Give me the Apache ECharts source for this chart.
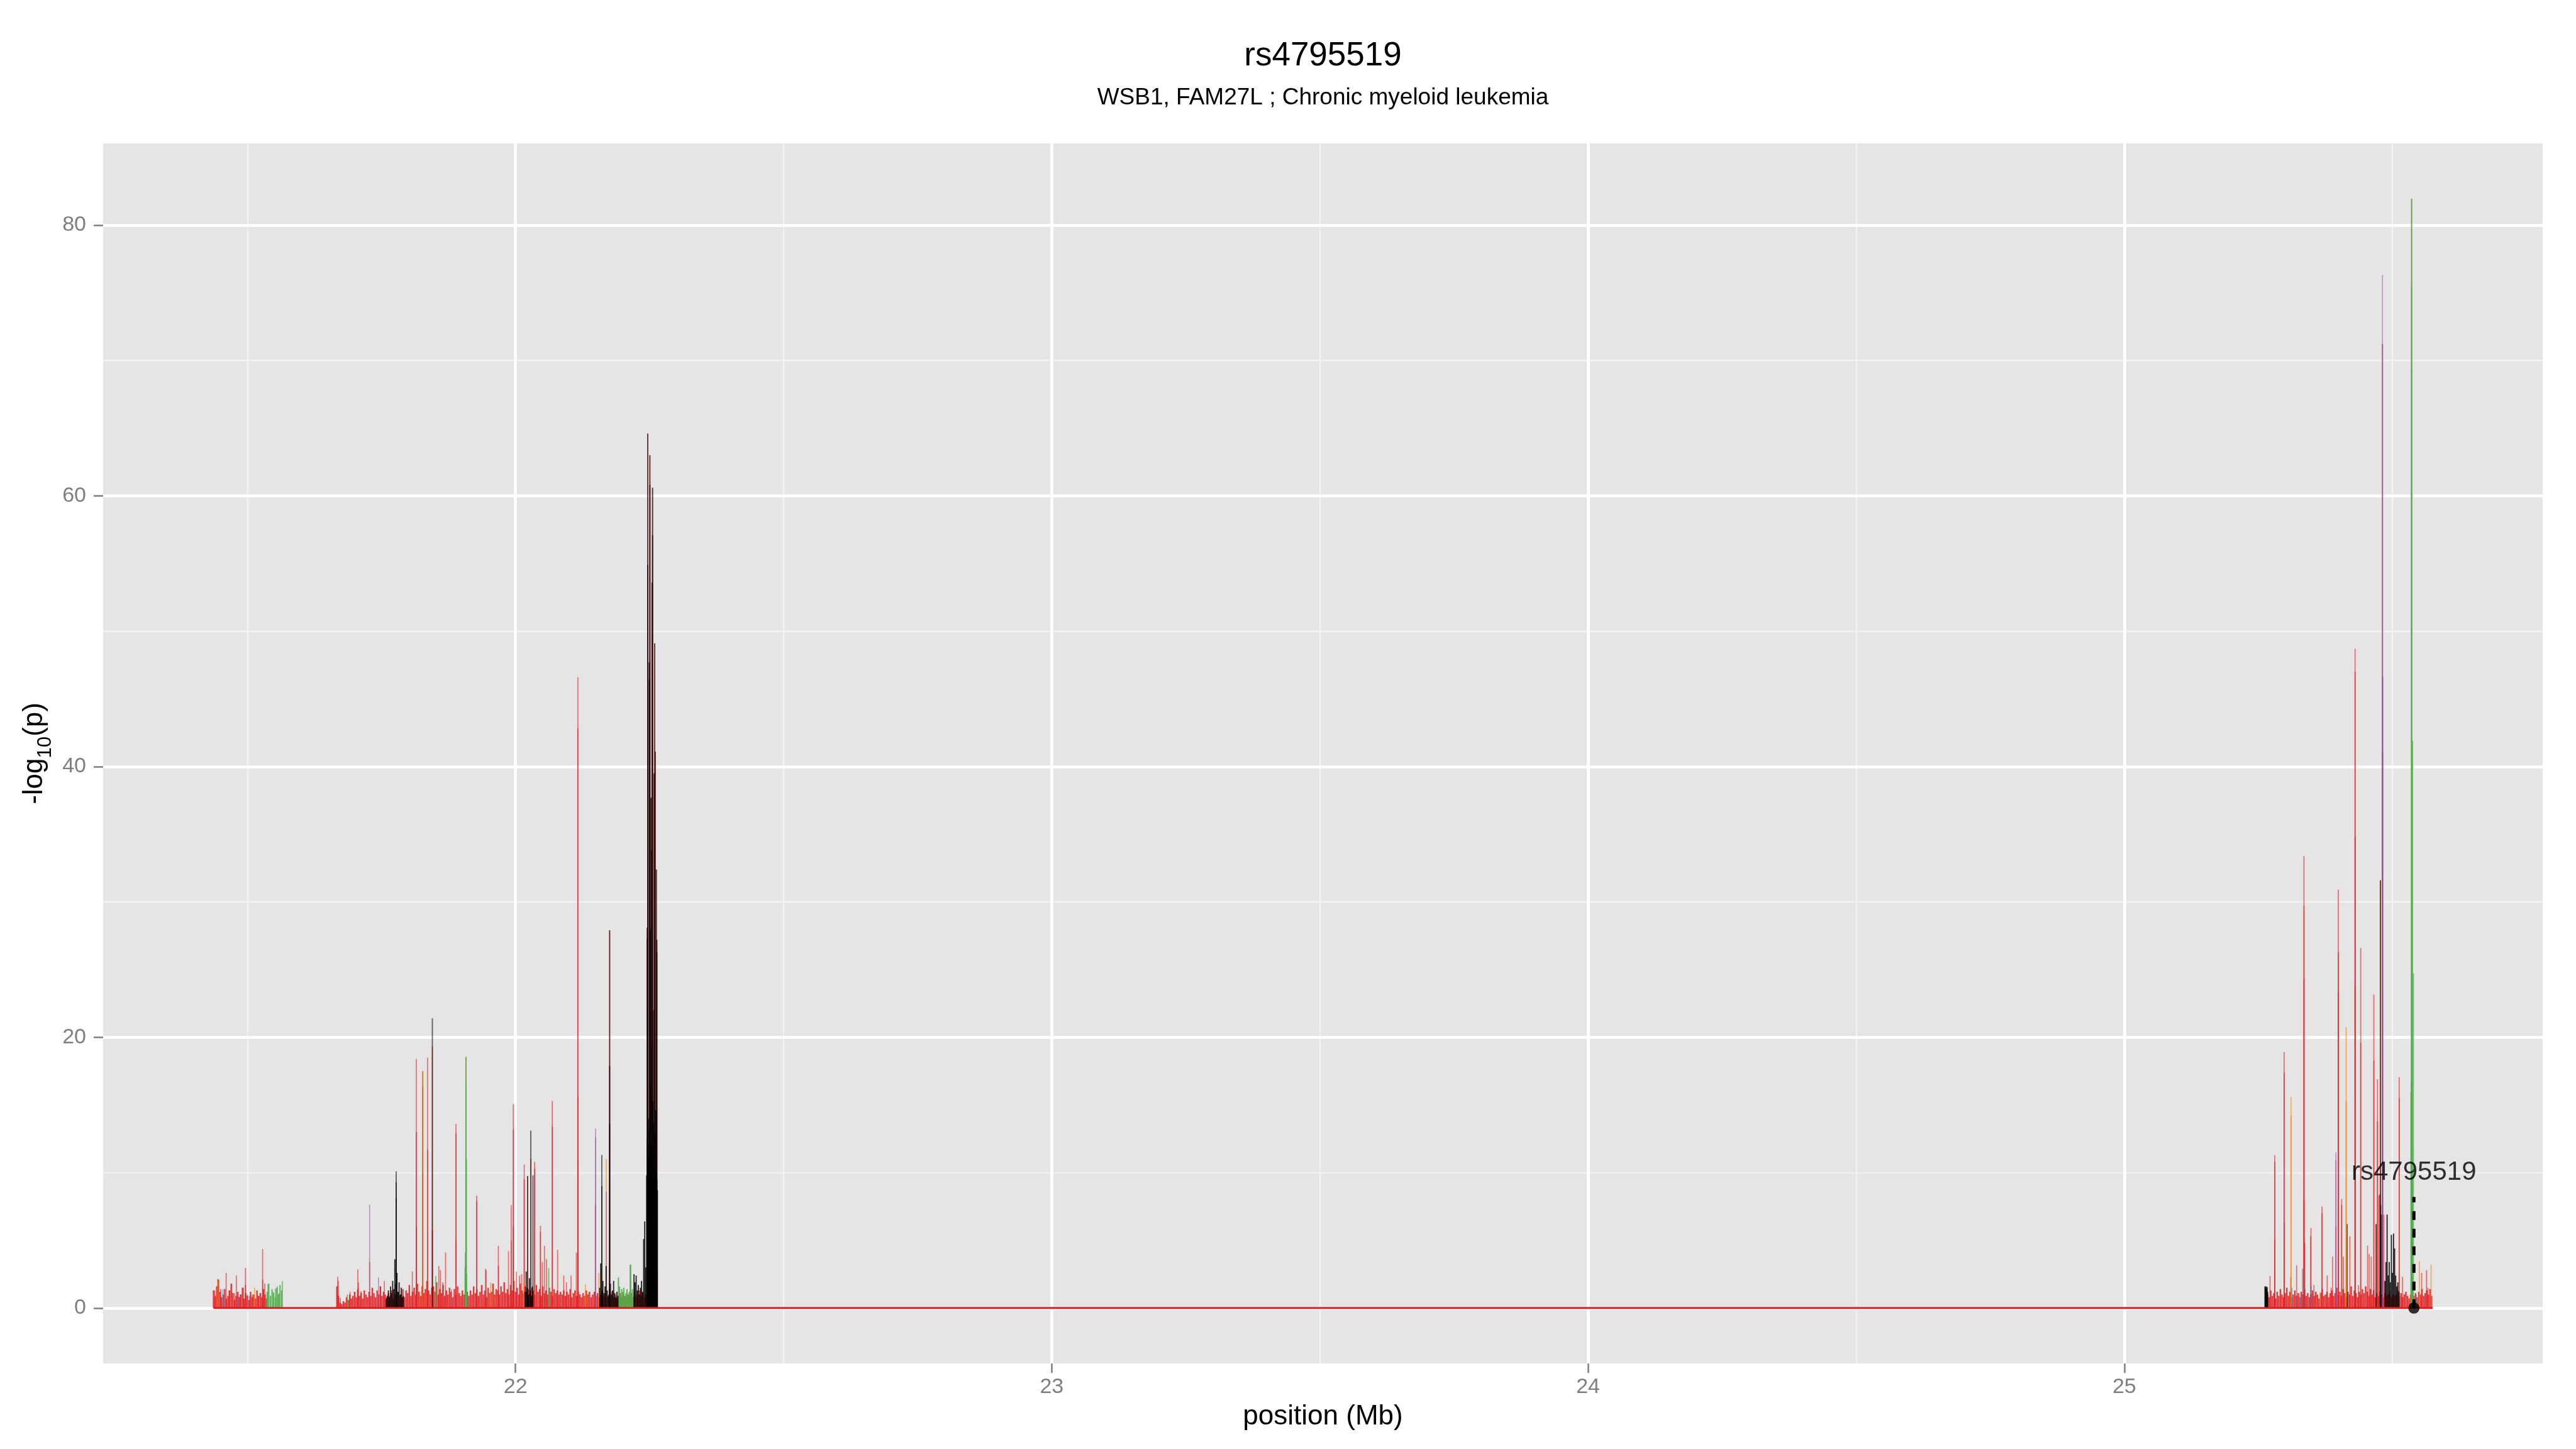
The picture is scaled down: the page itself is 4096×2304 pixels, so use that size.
<!DOCTYPE html>
<html>
<head>
<meta charset="utf-8">
<title>rs4795519</title>
<script src="https://cdn.jsdelivr.net/npm/echarts@6/dist/echarts.min.js"></script>
<style>
html, body { margin: 0; padding: 0; background: #ffffff; }
#chart { width: 4096px; height: 2304px; }
</style>
</head>
<body>
<div id="chart"></div>
<script>
// titles
var TITLE = 'rs4795519';
var SUBTITLE = 'WSB1, FAM27L ; Chronic myeloid leukemia';
var SNP_NAME = 'rs4795519';
var SNP_POS = 25.540;
var SNP_LABEL_Y = 10;
var SNP_LINE_TOP = 8.2;

// axes (Mb, -log10 p)
var X_MIN = 21.2311, X_MAX = 25.7801;
var Y_MIN = -4.097, Y_MAX = 86.037;
var xMajor = [22, 23, 24, 25];
var xMinor = [21.5, 22.5, 23.5, 24.5, 25.5];
var yMajor = [0, 20, 40, 60, 80];
var yMinor = [10, 30, 50, 70];

// extent of the tested region (zero line)
var regionStart = 21.437, regionEnd = 25.575;

// spikes: [position (Mb), -log10(p)]
var redSpikes = [
  [21.4392,1.3],[21.4449,2.15],[21.4505,1.4],[21.4605,2.6],[21.4659,1.3],[21.4759,1.1],[21.4795,2.4],
  [21.4865,1.0],[21.4925,1.5],[21.4965,2.96],[21.4965,1.7],[21.5045,0.9],[21.5095,1.0],[21.5199,0.9],
  [21.5285,4.35],[21.5285,2.1],[21.5325,1.8],
  [21.6685,2.3],[21.6695,2.0],[21.6735,0.74],[21.6915,1.2],[21.706,2.85],[21.707,1.9],[21.712,1.25],
  [21.728,3.4],[21.7485,1.6],[21.7555,2.0],[21.8076,2.7],[21.815,18.4],[21.815,13.0],[21.815,6.0],
  [21.827,17.5],[21.827,16.4],[21.827,10.0],[21.836,18.5],[21.836,11.7],[21.845,19.3],[21.845,5.7],
  [21.857,3.1],[21.860,2.8],[21.8645,1.9],[21.8696,4.1],[21.889,13.6],[21.889,12.9],[21.889,5.0],
  [21.9076,18.55],[21.9276,8.3],[21.9276,7.9],[21.944,2.9],[21.9455,2.8],[21.968,4.6],[21.9683,3.1],
  [21.987,4.2],[21.992,7.6],[21.992,5.0],[21.996,15.07],[21.996,13.2],[21.996,6.0],[22.0016,2.7],
  [22.0076,2.4],[22.0116,2.5],[22.0163,10.6],[22.0163,9.5],[22.0226,9.75],[22.0286,11.0],[22.0356,10.8],
  [22.0356,10.3],[22.0466,6.07],[22.0466,5.6],[22.050,3.4],[22.054,4.6],[22.058,3.6],[22.0686,15.3],
  [22.0686,13.4],[22.0786,4.3],[22.090,2.4],[22.095,1.9],[22.1035,2.4],[22.1135,4.1],[22.1163,46.6],
  [22.1163,42.8],[22.1163,15.6],[22.1163,11.0],[22.149,7.6],[22.1756,27.9],
  [22.2456,28.1],[22.2466,64.6],[22.2466,54.9],[22.2496,47.7],[22.2506,63.0],[22.2526,37.7],[22.2546,53.6],
  [22.2556,60.6],[22.2586,39.5],[22.2596,49.1],[22.2606,41.1],[22.2626,32.4],[22.2636,27.2],[22.2646,2.9],
  [25.2717,2.36],[25.2806,11.3],[25.2806,10.8],[25.2806,5.0],[25.298,18.9],[25.298,17.4],[25.298,6.3],
  [25.3103,2.3],[25.3213,3.16],[25.3326,2.9],[25.335,33.4],[25.335,29.7],[25.335,24.3],[25.335,8.0],
  [25.3365,4.8],[25.348,5.9],[25.3475,5.3],[25.3536,1.7],[25.3686,7.5],[25.3686,7.0],[25.3783,2.4],
  [25.3856,1.5],[25.3883,3.8],[25.3946,6.0],[25.399,30.9],[25.399,26.3],[25.399,23.3],[25.4053,8.06],
  [25.4053,7.6],[25.4083,3.8],[25.4206,5.3],[25.4303,48.7],[25.4303,47.0],[25.4303,34.8],[25.4303,23.8],
  [25.4366,1.7],[25.4408,26.6],[25.4408,19.6],[25.4536,4.6],[25.4566,4.0],[25.4603,3.8],[25.4653,23.15],
  [25.4653,18.3],[25.4696,6.2],[25.472,16.9],[25.472,13.8],[25.4743,8.3],[25.4775,31.6],[25.4814,71.2],
  [25.4816,46.6],[25.4816,41.1],[25.484,6.9],[25.5126,17.05],[25.5126,15.5],[25.5186,2.3],[25.5357,81.94],
  [25.5545,2.6],[25.5635,2.8],[25.566,1.5]
];
var blackSpikes = [
  [21.7775,10.1],[21.7775,9.3],[21.7775,8.1],[21.845,21.4],[22.0226,9.75],[22.0286,13.1],[22.0326,9.8],
  [22.161,11.3],[22.161,9.0],[22.1756,27.9],[22.1756,17.9],[22.1756,13.6],
  [22.2456,28.1],[22.2456,27.3],[22.2466,64.6],[22.2466,54.9],[22.2476,12.1],[22.2496,47.7],[22.2496,46.4],
  [22.2506,63.0],[22.2506,60.8],[22.2516,28.0],[22.2526,37.7],[22.2536,33.8],[22.2546,53.6],[22.2546,19.4],
  [22.2556,60.6],[22.2556,57.1],[22.2566,15.3],[22.2576,22.0],[22.2586,39.5],[22.2596,49.1],[22.2606,41.1],
  [22.2616,13.1],[22.2626,32.4],[22.2636,27.2],[22.2636,26.3],
  [25.4156,6.2],[25.4696,6.2],[25.4766,8.4],[25.478,7.6],[25.4795,6.9],[25.4775,31.6]
];
var greenSpikes = [
  [21.5385,1.76],[21.5482,1.2],[21.5525,1.43],[21.5559,1.6],[21.5592,1.1],[21.5652,1.97],[21.6865,1.0],
  [21.8513,2.36],[21.906,3.0],[21.9065,4.1],[21.9076,18.55],[21.9076,16.6],[21.9085,11.0],[21.909,2.5],
  [22.062,2.95],[22.215,3.2],
  [25.5345,16.0],[25.535,16.75],[25.5357,81.94],[25.5357,75.5],[25.5357,69.4],[25.5362,12.0],[25.5367,10.0],
  [25.5375,41.9],[25.539,24.7]
];
var orangeSpikes = [
  [21.4449,2.1],[21.5135,1.5],[21.827,17.5],[21.9536,1.9],[22.0156,1.9],[22.1303,1.75],[22.1553,2.6],
  [22.1693,11.0],[25.311,15.6],[25.311,14.2],[25.3655,1.2],[25.4136,20.75],[25.4136,15.3],[25.4775,31.6],
  [25.5503,3.45],[25.572,3.2]
];
var purpleSpikes = [
  [21.728,7.63],[21.7445,2.26],[21.8805,1.4],[22.1493,13.26],[22.1493,12.6],[22.1693,8.6],
  [25.3946,11.5],[25.3946,10.9],[25.4814,76.3],[25.4814,71.2],[25.4816,46.6]
];
var blueSpikes = [
  [21.4545,1.4],[21.4835,0.9],[21.5005,1.0],[25.3125,1.5],[25.3265,1.1],[25.3345,2.9],[25.3485,1.6],[25.5445,1.0]
];

// dense low background signal, one height per bin
var NOISE_STEP = 0.003;
var redNoiseLeftAStart = 21.437;
var redNoiseLeftA = [1.3,0.9,1.6,2.1,1.2,0.8,1.0,1.4,0.7,0.9,1.3,1.8,1.1,0.6,0.9,1.2,0.8,1.0,1.5,0.7,
  1.1,0.9,0.6,1.2,0.8,1.0,0.7,1.3,0.9,1.1,0.8,1.4,1.0,0.7];
var greenNoiseLeftAStart = 21.537;
var greenNoiseLeftA = [1.2,1.8,0.9,1.4,1.1,0.8,1.5,1.0,1.7,1.3];
var redNoiseLeftBStart = 21.667;
var redNoiseLeftB = [
  1.6,0.9,0.4,0.3,0.5,0.4,0.8,0.6,1.0,0.7,0.9,1.2,0.8,1.4,0.9,1.1,0.7,1.3,1.0,0.8,
  1.2,0.9,1.5,1.1,0.8,1.3,1.0,1.6,0.9,1.2,1.0,0.8,1.1,0.9,1.3,0.7,1.0,0.8,1.2,0.9,
  1.0,1.4,0.8,1.3,1.1,1.7,0.9,1.2,1.5,1.0,1.8,1.2,0.9,1.6,1.1,1.4,2.0,1.3,1.0,1.5,
  1.6,1.2,1.9,1.0,1.4,1.1,1.7,0.9,1.3,1.0,1.5,1.2,0.8,1.4,1.0,1.6,1.1,0.9,1.3,1.0,
  1.5,1.2,0.9,1.3,1.0,1.6,1.1,1.4,0.9,1.2,1.7,1.0,1.3,0.8,1.5,1.1,1.2,1.8,1.0,1.4,
  1.3,1.0,1.6,1.2,1.9,1.1,1.4,1.0,1.7,1.3,2.0,1.2,1.5,1.0,1.8,1.3,1.1,1.6,1.2,1.4,
  1.1,1.5,1.3,1.0,1.7,1.2,1.4,0.9,1.6,1.1,1.3,1.0,1.5,1.2,0.9,1.4,1.1,1.3,1.0,1.2,
  1.0,1.3,0.9,1.2,1.0,1.4,0.8,1.1,1.3,0.9,1.2,1.0,0.8,1.1,0.9,1.3,1.0,1.2,0.8,1.0,
  1.2,0.9,1.1,0.8,1.0,1.3,0.9,1.1,0.8,1.0,0.9,1.2,0.8,1.0,0.7,0.9,1.1,0.8,1.0,0.9,
  0.8,1.0,0.9,1.1,0.8,1.2,0.9,1.0,1.3,0.9,1.1,0.8,1.0
];
var redNoiseRightStart = 25.267;
var redNoiseRight = [
  1.0,0.8,1.3,0.9,1.1,0.7,1.2,0.9,1.4,1.0,0.8,1.1,1.5,0.9,1.2,0.8,1.0,1.3,0.9,1.1,
  0.8,1.2,1.0,1.4,0.9,1.1,0.8,1.0,1.3,0.9,1.2,1.0,0.7,1.1,1.4,0.9,1.0,1.2,0.8,1.1,
  1.3,0.9,1.1,1.5,1.0,1.2,0.9,1.4,1.1,0.8,1.2,1.0,1.6,0.9,1.3,1.1,0.8,1.2,1.0,1.4,
  1.1,1.6,1.2,0.9,1.4,1.0,1.3,0.8,1.1,0.9,1.2,1.0,0.8,1.1,0.9,1.0,1.2,0.8,1.0,0.9,
  1.0,1.3,0.9,1.1,0.8,1.0,1.2,0.9,0.7,1.0,1.3,0.9,1.1,0.8,1.2,1.0,1.4,0.9,1.1,1.3,
  1.0,1.4,0.9
];

// dark (black) and green runs, finer bins
var blackNoiseA = [0.7,0.9,1.3,0.8,1.6,1.1,2.0,1.4,3.6,1.8,2.6,1.2,1.9,1.0,1.5,0.8,0.9];   // from 21.759, step .002
var blackNoiseB = [1.2,2.7,1.5,1.0,2.2,1.3,0.9,1.6];                                       // from 22.018
var blackNoiseC = [1.5,3.3,1.2,2.0,1.1,1.6,3.1,1.3,0.9,1.4,1.8,1.0,1.3,2.0,1.1,0.8,1.2,0.9]; // from 22.157
var greenNoiseB = [2.26,1.6,0.9,1.4,1.2,1.5,0.8,1.1,1.4,0.9,1.2,3.2,1.0,1.4,0.8];           // from 22.192
var blackNoiseD = [2.5,1.9,2.4,1.3,1.7,1.0,1.5,2.0,1.2,5.1,6.4,3.0];                       // from 22.221
var blackNoiseE = [9.8,12.5,10.2,14.0,11.1,13.2,9.9,16.5,12.0,10.8,15.2,11.5,9.6,13.7,10.4,12.9,
  11.2,14.6,10.1,9.5,8.7];                                                                  // from 22.2446, step .001
var blackNoiseF = [1.6,1.5,1.6,1.4,1.55,1.2];                                               // from 25.2623, step .001
var blackNoiseG = [2.0,3.4,6.9,2.4,3.4,1.9,5.4,2.6,5.5,4.4,2.4,1.6,1.9,1.2];               // from 25.486, step .002

var FONT = "'Liberation Sans', Arial, Helvetica, sans-serif";

function binned(start, step, heights) {
  var out = [];
  for (var i = 0; i < heights.length; i++) {
    out.push([+(start + i * step).toFixed(4), heights[i]]);
  }
  return out;
}

function spikes(data, color, alpha, width) {
  return {
    type: 'custom',
    data: data,
    silent: true,
    clip: true,
    renderItem: function (params, api) {
      var x = api.value(0);
      var a = api.coord([x, 0]);
      var b = api.coord([x, api.value(1)]);
      return {
        type: 'line',
        shape: { x1: a[0], y1: a[1], x2: b[0], y2: b[1] },
        style: { stroke: color, lineWidth: width, opacity: alpha }
      };
    }
  };
}

var RED = '#E41A1C', GREEN = '#4DAF4A', ORANGE = '#FF7F00', PURPLE = '#984EA3', BLUE = '#377EB8';

var redNoise = binned(redNoiseLeftAStart, NOISE_STEP, redNoiseLeftA)
  .concat(binned(redNoiseLeftBStart, NOISE_STEP, redNoiseLeftB))
  .concat(binned(redNoiseRightStart, NOISE_STEP, redNoiseRight));
var greenNoise = binned(greenNoiseLeftAStart, NOISE_STEP, greenNoiseLeftA)
  .concat(binned(22.192, 0.002, greenNoiseB));
var blackNoise = binned(21.759, 0.002, blackNoiseA)
  .concat(binned(22.018, 0.002, blackNoiseB))
  .concat(binned(22.157, 0.002, blackNoiseC))
  .concat(binned(22.221, 0.002, blackNoiseD))
  .concat(binned(22.2446, 0.001, blackNoiseE))
  .concat(binned(25.2623, 0.001, blackNoiseF))
  .concat(binned(25.486, 0.002, blackNoiseG));

var myChart = echarts.init(document.getElementById('chart'));

var option = {
  animation: false,
  backgroundColor: '#ffffff',
  title: [{
    text: TITLE, left: 2103.5, top: 63, textAlign: 'center', padding: 0,
    textStyle: { fontSize: 53, lineHeight: 53, fontWeight: 'normal', color: '#000000', fontFamily: FONT }
  }, {
    text: SUBTITLE, left: 2103.5, top: 137, textAlign: 'center', padding: 0,
    textStyle: { fontSize: 37, lineHeight: 37, fontWeight: 'normal', color: '#000000', fontFamily: FONT }
  }],
  grid: {
    left: 164, right: 53, top: 228, bottom: 136,
    show: true, backgroundColor: '#E5E5E5', borderWidth: 0
  },
  xAxis: [{
    type: 'value', min: X_MIN, max: X_MAX, z: 1, position: 'bottom',
    axisLine: { show: false, onZero: false },
    axisTick: { show: true, length: 15, customValues: xMajor, lineStyle: { color: '#7F7F7F', width: 2.5 } },
    axisLabel: { customValues: xMajor, fontSize: 34, color: '#7F7F7F', margin: 21, fontFamily: FONT },
    splitLine: { show: true, lineStyle: { color: '#FFFFFF', width: 4.7 } },
    name: 'position (Mb)', nameLocation: 'middle', nameGap: 63,
    nameTextStyle: { fontSize: 44, color: '#000000', fontFamily: FONT }
  }, {
    type: 'value', min: X_MIN, max: X_MAX, z: 0, position: 'bottom',
    axisLine: { show: false, onZero: false },
    axisTick: { show: false, customValues: xMinor },
    axisLabel: { show: false, customValues: xMinor },
    splitLine: { show: true, lineStyle: { color: '#F2F2F2', width: 2.3 } }
  }],
  yAxis: [{
    type: 'value', min: Y_MIN, max: Y_MAX, z: 1, position: 'left',
    axisLine: { show: false, onZero: false },
    axisTick: { show: true, length: 15, customValues: yMajor, lineStyle: { color: '#7F7F7F', width: 2.5 } },
    axisLabel: { customValues: yMajor, fontSize: 34, color: '#7F7F7F', margin: 27, fontFamily: FONT },
    splitLine: { show: true, lineStyle: { color: '#FFFFFF', width: 4.7 } },
    name: '{a|-log}{b|10}{a|(p)}', nameLocation: 'middle', nameGap: 67,
    nameTextStyle: {
      color: '#000000', fontFamily: FONT,
      rich: {
        a: { fontSize: 44, lineHeight: 66, verticalAlign: 'middle', fontFamily: FONT, color: '#000000' },
        b: { fontSize: 31, lineHeight: 66, verticalAlign: 'bottom', fontFamily: FONT, color: '#000000' }
      }
    }
  }, {
    type: 'value', min: Y_MIN, max: Y_MAX, z: 0, position: 'left',
    axisLine: { show: false, onZero: false },
    axisTick: { show: false, customValues: yMinor },
    axisLabel: { show: false, customValues: yMinor },
    splitLine: { show: true, lineStyle: { color: '#F2F2F2', width: 2.3 } }
  }],
  series: [
    {
      type: 'line', data: [[regionStart, 0], [regionEnd, 0]], symbol: 'none', silent: true,
      lineStyle: { color: RED, width: 3 }
    },
    spikes(redNoise, RED, 0.85, 2.4),
    spikes(greenNoise, GREEN, 0.9, 2.0),
    spikes(redSpikes, RED, 0.6, 1.7),
    spikes(orangeSpikes, ORANGE, 0.65, 1.6),
    spikes(purpleSpikes, PURPLE, 0.6, 1.6),
    spikes(blueSpikes, BLUE, 0.65, 1.5),
    spikes(greenSpikes, GREEN, 0.75, 1.8),
    spikes(blackNoise, '#000000', 0.85, 1.8),
    spikes(blackSpikes, '#000000', 0.6, 1.8),
    {
      type: 'line', data: [[SNP_POS, 0], [SNP_POS, SNP_LINE_TOP]], symbol: 'none', silent: true, z: 5,
      lineStyle: { color: '#000000', width: 5, type: [14, 14] }
    },
    {
      type: 'scatter', data: [[SNP_POS, 0]], symbol: 'circle', symbolSize: 18, silent: true, z: 6,
      itemStyle: { color: '#000000' }
    },
    {
      type: 'scatter', data: [[SNP_POS, SNP_LABEL_Y]], symbolSize: 1, silent: true, z: 6,
      itemStyle: { color: 'rgba(0,0,0,0)' },
      label: {
        show: true, position: 'inside', formatter: SNP_NAME,
        fontSize: 42, color: '#000000', fontFamily: FONT
      }
    }
  ]
};
myChart.setOption(option);
</script>
</body>
</html>
